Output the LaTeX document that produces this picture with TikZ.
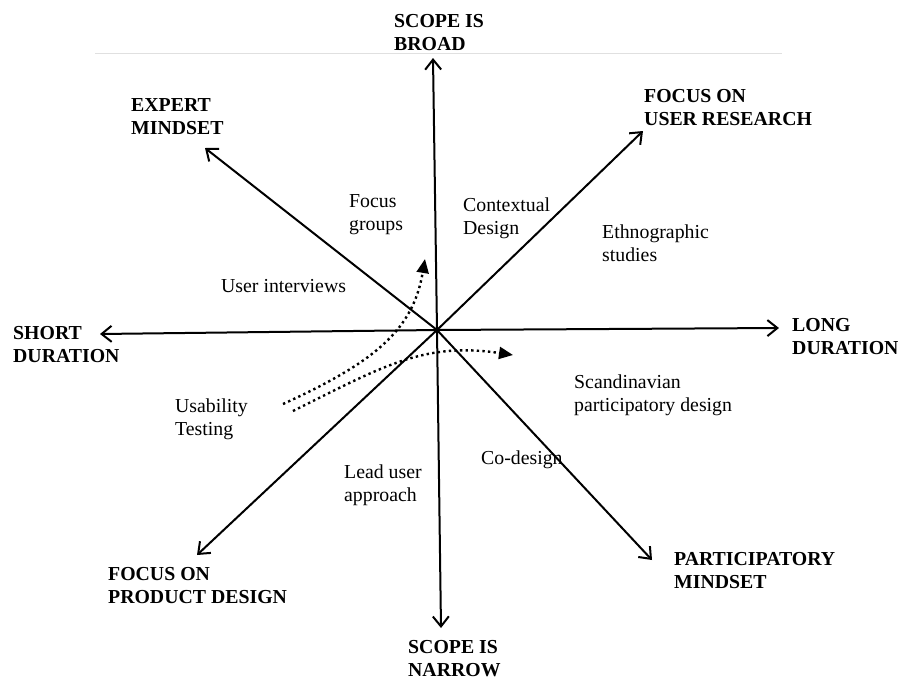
\documentclass[tikz,border=0pt]{standalone}
\usepackage{fontspec}
\setmainfont{Liberation Serif}
\usetikzlibrary{arrows.meta}
\begin{document}
\begin{tikzpicture}[x=1pt,y=-1pt,
  axis/.style={line width=2pt,-{Straight Barb[length=10pt,width=16pt,line width=2pt]}},
  dots/.style={line width=2.4pt,dash pattern=on 2.4pt off 3.2pt,-{Triangle[length=14pt,width=12pt]}},
  biglab/.style={anchor=base west,inner sep=0pt,align=left,font=\fontsize{19.8}{22.5}\selectfont\bfseries},
  lab/.style={anchor=base west,inner sep=0pt,align=left,font=\fontsize{19.8}{22.5}\selectfont}]
\useasboundingbox (0,0) rectangle (898,681);
\fill[white] (0,0) rectangle (898,681);
\coordinate (rl) at (95,53);
\coordinate (rr) at (782,53);
\draw[black!12,line width=1pt] (rl) -- (rr);
\coordinate (c) at (437,330);
\coordinate (tN) at (433,58);
\coordinate (tS) at (441,628);
\coordinate (tW) at (100,334);
\coordinate (tE) at (779,328);
\coordinate (tNW) at (205,148);
\coordinate (tNE) at (643,131);
\coordinate (tSW) at (197,555);
\coordinate (tSE) at (652,560);
\foreach \t in {tN,tS,tW,tE,tNW,tNE,tSW,tSE} \draw[axis] (c) -- (\t);
% dotted curves
\coordinate (d1s) at (283,404);
\coordinate (d1e) at (425,259);
\coordinate (d2s) at (293,411);
\coordinate (d2e) at (513,355);
\draw[dots] (d1s) .. controls (375,362) and (413,330) .. (d1e);
\draw[dots] (d2s) .. controls (385,365) and (425,342) .. (d2e);
% axis labels (coordinates = baseline of last line)
\node[biglab] (broad) at (394,50) {SCOPE IS\\BROAD};
\node[biglab] (expert) at (131,134) {EXPERT\\MINDSET};
\node[biglab] (user) at (644,125) {FOCUS ON\\USER RESEARCH};
\node[biglab] (short) at (13,362) {SHORT\\DURATION};
\node[biglab] (long) at (792,354) {LONG\\DURATION};
\node[biglab] (prod) at (108,603) {FOCUS ON\\PRODUCT DESIGN};
\node[biglab] (part) at (674,588) {PARTICIPATORY\\MINDSET};
\node[biglab] (narrow) at (408,676) {SCOPE IS\\NARROW};
% method labels
\node[lab] (fg) at (349,230) {Focus\\groups};
\node[lab] (cd) at (463,234) {Contextual\\Design};
\node[lab] (eth) at (602,261) {Ethnographic\\studies};
\node[lab] (ui) at (221,292) {User interviews};
\node[lab] (ut) at (175,435) {Usability\\Testing};
\node[lab] (scan) at (574,411) {Scandinavian\\participatory design};
\node[lab] (lua) at (344,501) {Lead user\\approach};
\node[lab] (cod) at (481,464) {Co-design};
\end{tikzpicture}
\end{document}
